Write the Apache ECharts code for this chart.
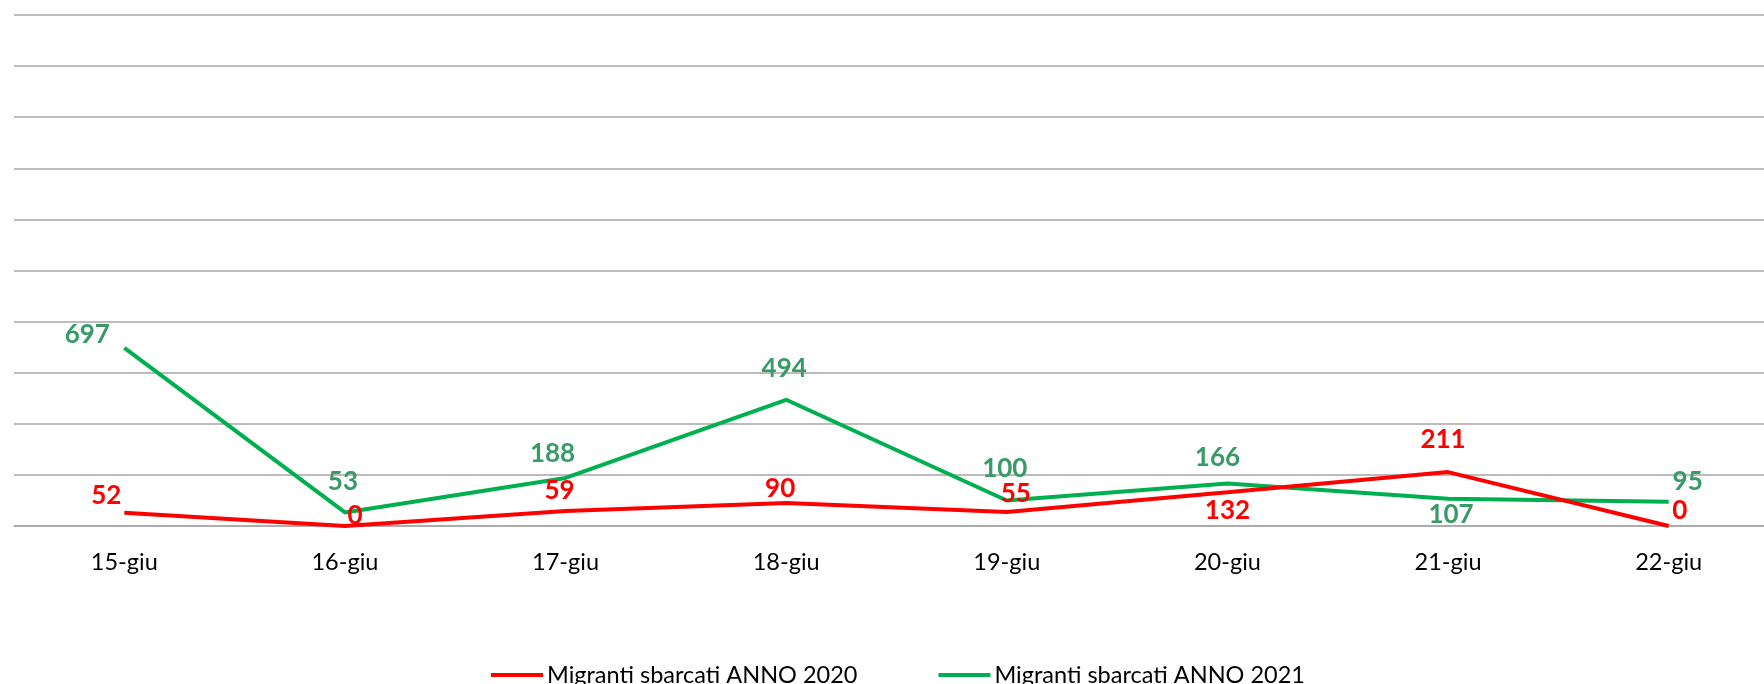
<!DOCTYPE html>
<html><head><meta charset="utf-8">
<script src="https://cdn.jsdelivr.net/npm/echarts@6/dist/echarts.min.js"></script>
<style>html,body{margin:0;padding:0;background:#fff}#c{width:1764px;height:684px}</style>
</head><body><div id="c"></div>
<script>
const categories = ['15-giu','16-giu','17-giu','18-giu','19-giu','20-giu','21-giu','22-giu'];
const series2020Name = 'Migranti sbarcati ANNO 2020';
const series2021Name = 'Migranti sbarcati ANNO 2021';
const values2020 = [52, 0, 59, 90, 55, 132, 211, 0];
const values2021 = [697, 53, 188, 494, 100, 166, 107, 95];

// label placement (style only)
const pos2020 = ['top','top','top','top','top','bottom','top','top'];
const off2020 = [[-18,1],[10,8],[-6,-2],[-6,4],[9,0],[0,0],[-5,-14],[11,3]];
const pos2021 = ['top','top','top','top','top','top','bottom','top'];
const off2021 = [[-37,5],[-2,-13],[-13,-6],[-2,-13],[-2,-14],[-10,-8],[3,-2],[19,-2]];

const FONT = 'Lato, "Open Sans", sans-serif';
function mk(vals, pos, off, color){
  return vals.map((v,i)=>({value:v,label:{position:pos[i],offset:off[i],color:color}}));
}
const chart = echarts.init(document.getElementById('c'));
chart.setOption({
  animation:false,
  grid:{left:14,width:1765,top:15,bottom:158,containLabel:false,outerBoundsMode:'none'},
  legend:{
    left:486, top:658, itemGap:81, itemWidth:52, itemHeight:4, icon:'rect',
    textStyle:{fontFamily:FONT,fontSize:23.5,color:'#000',padding:[0,0,0,-1]},
    data:[series2020Name, series2021Name]
  },
  xAxis:{
    type:'category', data:categories, boundaryGap:true,
    axisLine:{show:true,lineStyle:{color:'#A6A6A6',width:1.5}},
    axisTick:{show:false},
    axisLabel:{fontFamily:FONT,fontSize:23.5,color:'#000',margin:24}
  },
  yAxis:{
    type:'value', min:0, max:2000, interval:200,
    axisLabel:{show:false}, axisLine:{show:false}, axisTick:{show:false},
    splitLine:{lineStyle:{color:'#A6A6A6',width:1.5}}
  },
  series:[
    {name:series2020Name,type:'line',data:mk(values2020,pos2020,off2020,'#FF0000'),
     color:'#FF0000',lineStyle:{width:4,color:'#FF0000'},symbol:'circle',symbolSize:0.1,showSymbol:true,
     label:{show:true,fontFamily:FONT,fontWeight:'bold',fontSize:26,distance:5},z:3},
    {name:series2021Name,type:'line',data:mk(values2021,pos2021,off2021,'#389A66'),
     color:'#00B050',lineStyle:{width:4,color:'#00B050'},symbol:'circle',symbolSize:0.1,showSymbol:true,
     label:{show:true,fontFamily:FONT,fontWeight:'bold',fontSize:26,distance:5},z:2}
  ]
});
</script></body></html>
